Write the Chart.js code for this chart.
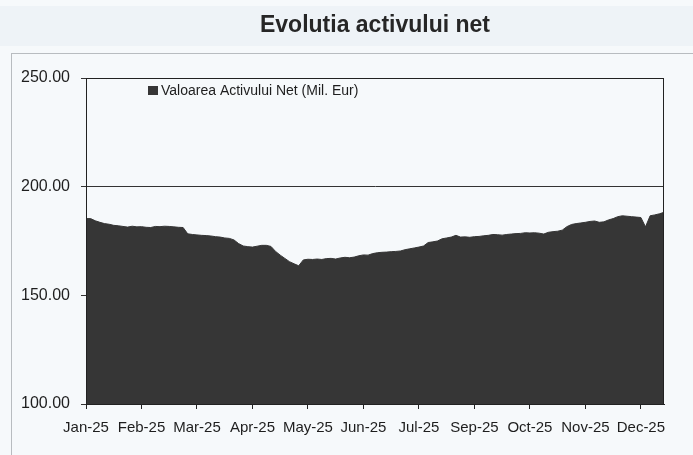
<!DOCTYPE html>
<html>
<head>
<meta charset="utf-8">
<script src="https://cdn.jsdelivr.net/npm/chart.js@4/dist/chart.umd.min.js"></script>
<style>
  html, body { margin: 0; padding: 0; background: #f6f9fb; }
  canvas { display: block; }
</style>
</head>
<body>
<canvas id="nav" width="693" height="455"></canvas>
<script>
// Net asset value (one point every ~4.6 px)
const navValues = [
  185.3, 185.3, 184.3, 183.6, 183.0, 182.7, 182.2, 182.0, 181.7, 181.4,
  181.8, 181.5, 181.6, 181.3, 181.2, 181.7, 181.6, 181.8, 181.7, 181.5,
  181.3, 181.2, 178.3, 178.0, 177.8, 177.6, 177.5, 177.3, 177.0, 176.8,
  176.4, 176.2, 175.5, 173.8, 172.7, 172.4, 172.2, 172.6, 173.0, 173.0,
  172.5, 170.2, 168.5, 167.0, 165.5, 164.5, 163.6, 166.3, 166.6, 166.5,
  166.7, 166.5, 166.9, 167.0, 166.7, 167.2, 167.5, 167.3, 167.6, 168.2,
  168.6, 168.5, 169.2, 169.6, 169.8, 169.9, 170.1, 170.2, 170.4, 171.0,
  171.4, 171.8, 172.2, 172.7, 174.3, 174.6, 175.0, 176.0, 176.4, 176.8,
  177.6, 176.8, 176.9, 176.7, 177.0, 177.1, 177.4, 177.6, 178.0, 177.9,
  177.7, 178.0, 178.2, 178.4, 178.5, 178.8, 178.7, 178.8, 178.6, 178.2,
  179.0, 179.3, 179.5, 180.0, 181.6, 182.6, 183.0, 183.3, 183.6, 184.0,
  184.2, 183.6, 183.8, 184.7, 185.3, 186.2, 186.6, 186.4, 186.2, 186.0,
  185.8, 181.5, 186.6, 187.0, 187.5, 188.2
];
const tickLabels = ['Jan-25', 'Feb-25', 'Mar-25', 'Apr-25', 'May-25', 'Jun-25',
                    'Jul-25', 'Sep-25', 'Oct-25', 'Nov-25', 'Dec-25'];
const tickStep = 12; // one label every 12 points
const yTicks = [100, 150, 200, 250];
const seriesName = 'Valoarea Activului Net (Mil. Eur)';

const categories = navValues.map((v, i) => i);
const FONT = "'Liberation Sans', Arial, sans-serif";
const AREA = '#363636';

// outer frame, plot border and the in-plot legend
const excelLook = {
  id: 'excelLook',
  beforeDraw(chart) {
    const ctx = chart.ctx;
    ctx.save();
    ctx.fillStyle = '#eef3f7';
    ctx.fillRect(0, 6, chart.width, 40);
    ctx.strokeStyle = '#b8bcc0';
    ctx.lineWidth = 1;
    ctx.strokeRect(11.5, 53.5, chart.width + 10, chart.height + 10);
    ctx.restore();
  },
  afterDatasetsDraw(chart) {
    const a = chart.chartArea;
    const ctx = chart.ctx;
    ctx.save();
    ctx.strokeStyle = '#222';
    ctx.lineWidth = 1;
    ctx.strokeRect(Math.round(a.left) + 0.5, Math.round(a.top) + 0.5,
                   Math.round(a.right - a.left) - 1, Math.round(a.bottom - a.top));
    ctx.restore();
  },
  afterDraw(chart) {
    const a = chart.chartArea;
    const ctx = chart.ctx;
    ctx.save();
    ctx.fillStyle = AREA;
    ctx.fillRect(a.left + 62, a.top + 8, 10, 9);
    ctx.fillStyle = '#1e1e1e';
    ctx.font = '14px ' + FONT;
    ctx.textBaseline = 'middle';
    ctx.fillText(seriesName, a.left + 75, a.top + 13);
    ctx.restore();
  }
};

new Chart(document.getElementById('nav'), {
  type: 'line',
  data: {
    labels: categories,
    datasets: [{
      label: seriesName,
      data: navValues,
      fill: 'start',
      backgroundColor: AREA,
      borderColor: AREA,
      borderWidth: 1,
      pointRadius: 0,
      tension: 0
    }]
  },
  options: {
    responsive: false,
    devicePixelRatio: 1,
    animation: false,
    layout: { padding: { left: 0, right: 29, top: 0, bottom: 0 } },
    plugins: {
      legend: { display: false },
      tooltip: { enabled: false },
      title: {
        display: true,
        fullSize: false,
        text: 'Evolutia activului net',
        color: '#262626',
        font: { family: FONT, size: 23, weight: 'bold' },
        padding: { top: 12, bottom: 38.4 }
      }
    },
    scales: {
      x: {
        type: 'category',
        afterFit: (s) => { s.height = 51; },
        grid: { drawOnChartArea: false, drawTicks: true, tickLength: 5, color: '#222' },
        border: { display: true, color: '#222' },
        ticks: {
          autoSkip: false,
          maxRotation: 0,
          padding: 10,
          color: '#1e1e1e',
          font: { family: FONT, size: 15 },
          callback: (v, i) => (i % tickStep === 0 ? tickLabels[i / tickStep] : null)
        }
      },
      y: {
        min: 100,
        max: 250,
        afterFit: (s) => { s.width = 86; },
        afterBuildTicks: (s) => { s.ticks = yTicks.map(v => ({ value: v })); },
        grid: { color: '#333', lineWidth: 1, tickLength: 5, drawTicks: true },
        border: { display: true, color: '#222' },
        ticks: {
          padding: 11,
          color: '#1e1e1e',
          font: { family: FONT, size: 16 },
          callback: (v) => Number(v).toFixed(2)
        }
      }
    }
  },
  plugins: [excelLook]
});
</script>
</body>
</html>
